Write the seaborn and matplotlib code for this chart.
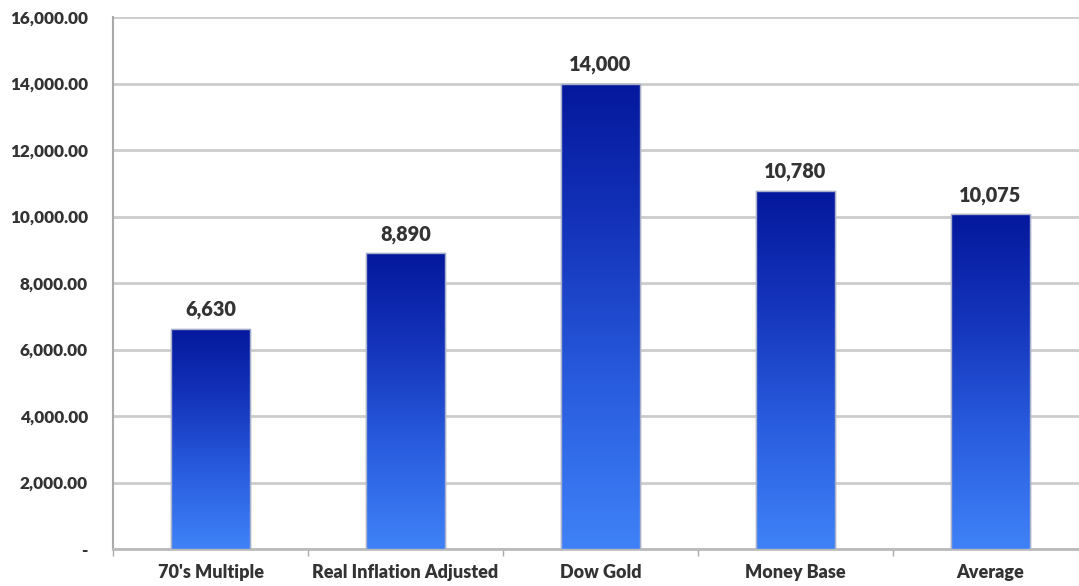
import numpy as np
import pandas as pd
import matplotlib
matplotlib.use("Agg")
import matplotlib.pyplot as plt
import seaborn as sns
from matplotlib.colors import LinearSegmentedColormap
from matplotlib.ticker import FuncFormatter, FixedLocator

categories = ["70's Multiple", "Real Inflation Adjusted", "Dow Gold", "Money Base", "Average"]
values = [6630, 8890, 14000, 10780, 10075]
yticks = [0, 2000, 4000, 6000, 8000, 10000, 12000, 14000, 16000]

sns.set_theme(style="white")
plt.rcParams['font.family'] = ['Lato', 'DejaVu Sans']

df = pd.DataFrame({"cat": categories, "val": values})

fig = plt.figure(figsize=(10.79, 5.86), dpi=100)
ax = fig.add_axes([113/1079, 1 - 549/586, 975/1079, 532/586])

sns.barplot(data=df, x="cat", y="val", ax=ax, width=0.41, color="#1a3ac8",
            edgecolor="#a8b0cc", linewidth=1.0, zorder=3)

ax.set_ylim(0, 16000)
ax.set_xlim(-0.5, 4.5)

# gradient fill clipped to each bar
cmap = LinearSegmentedColormap.from_list("g", ["#3f82f7", "#2a5ee0", "#1536bd", "#04189c"])
grad = np.linspace(0, 1, 256).reshape(-1, 1)
for patch in list(ax.patches):
    x0, y0 = patch.get_x(), patch.get_y()
    w, h = patch.get_width(), patch.get_height()
    im = ax.imshow(grad, extent=[x0, x0 + w, y0, y0 + h], origin="lower",
                   aspect="auto", cmap=cmap, zorder=3.5)
    im.set_clip_path(patch)
    p2 = plt.Rectangle((x0, y0), w, h, fill=False, edgecolor="#a8b0cc", linewidth=1.0, zorder=4)
    ax.add_patch(p2)
ax.set_xlim(-0.5, 4.5)
ax.set_ylim(0, 16000)

# labels
for i, v in enumerate(values):
    ax.text(i, v + 280, f"{v:,}", ha="center", va="bottom", fontsize=14.3,
            fontweight="heavy", color="#333333", zorder=5)

ax.set_yticks(yticks)
ax.yaxis.set_major_formatter(FuncFormatter(lambda v, p: "-" if v == 0 else f"{v:,.2f}"))
ax.yaxis.grid(True, color="#cccccc", linewidth=2, zorder=0)
ax.set_axisbelow(True)
ax.tick_params(axis="y", length=4, width=1, color="#aaaaaa", labelsize=12.3, labelcolor="#333333", pad=14)
for lab in ax.get_yticklabels():
    lab.set_fontweight("heavy")

ax.set_xticks(range(len(categories)))
ax.set_xticklabels(categories)
ax.xaxis.set_minor_locator(FixedLocator([-0.5, 0.5, 1.5, 2.5, 3.5, 4.5]))
ax.tick_params(axis="x", which="major", length=0, labelsize=13, labelcolor="#333333", pad=11)
ax.tick_params(axis="x", which="minor", length=5, width=1, color="#aaaaaa", bottom=True)
for lab in ax.get_xticklabels():
    lab.set_fontweight("heavy")

ax.set_xlabel("")
ax.set_ylabel("")
for s in ["top", "right"]:
    ax.spines[s].set_visible(False)
ax.spines["left"].set_color("#aaaaaa")
ax.spines["left"].set_linewidth(1.5)
ax.spines["bottom"].set_color("#bbbbbb")
ax.spines["bottom"].set_linewidth(2)

fig.savefig("out.png", dpi=100)
